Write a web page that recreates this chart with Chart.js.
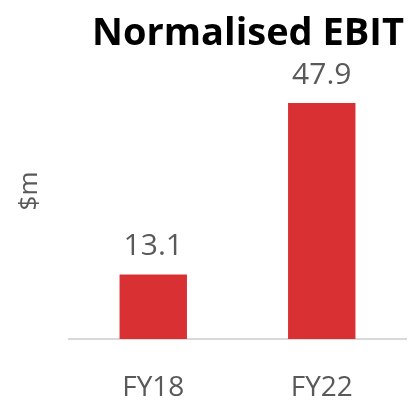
<!DOCTYPE html>
<html>
<head>
<meta charset="utf-8">
<script src="https://cdn.jsdelivr.net/npm/chart.js@4/dist/chart.umd.min.js"></script>
<style>
  html, body { margin: 0; padding: 0; background: #fff; }
  #wrap { width: 408px; height: 402px; position: relative; }
</style>
</head>
<body>
<div id="wrap"><canvas id="ebitChart"></canvas></div>
<script>
// data
const categories = ['FY18', 'FY22'];
const ebitValues = [13.1, 47.9];
const chartTitle = 'Normalised EBIT';
const unitLabel = '$m';

const FONT = "'Open Sans', 'Noto Sans', sans-serif";
const GREY = '#595959';

// labels, title and unit drawn on top of the chart
const overlayPlugin = {
    id: 'overlay',
    afterDatasetsDraw(chart) {
        const ctx = chart.ctx;
        const meta = chart.getDatasetMeta(0);
        ctx.save();
        ctx.fillStyle = GREY;
        ctx.font = '30px ' + FONT;
        ctx.textAlign = 'center';
        ctx.textBaseline = 'alphabetic';
        meta.data.forEach((bar, i) => {
            ctx.fillText(ebitValues[i].toFixed(1), bar.x, bar.y - 19);
        });

        // titre
        ctx.fillStyle = '#000';
        ctx.font = 'bold 38px ' + FONT;
        ctx.fillText(chartTitle, 248, 45);

        // $m vertical
        ctx.fillStyle = GREY;
        ctx.font = '26px ' + FONT;
        ctx.translate(30, 191);
        ctx.rotate(-Math.PI / 2);
        ctx.textBaseline = 'middle';
        ctx.fillText(unitLabel, 0, 0);
        ctx.restore();
    }
};

new Chart(document.getElementById('ebitChart'), {
    type: 'bar',
    data: {
        labels: categories,
        datasets: [{
            data: ebitValues,
            backgroundColor: '#d93033',
            barPercentage: 0.4,
            categoryPercentage: 1.0
        }]
    },
    options: {
        responsive: true,
        maintainAspectRatio: false,
        animation: false,
        layout: {
            padding: { left: 69, right: 2, top: 68, bottom: 4 }
        },
        scales: {
            x: {
                grid: { display: false },
                border: { color: '#d9d9d9', width: 2 },
                ticks: {
                    color: GREY,
                    font: { family: FONT, size: 28 },
                    padding: 24
                },
                afterFit(scale) {
                    scale.height = 59;
                }
            },
            y: {
                display: false,
                min: 0,
                max: 55
            }
        },
        plugins: {
            legend: { display: false },
            tooltip: { enabled: false }
        }
    },
    plugins: [overlayPlugin]
});
</script>
</body>
</html>
